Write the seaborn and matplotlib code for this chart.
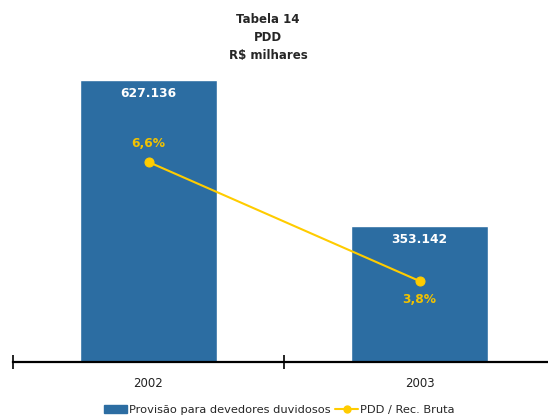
import pandas as pd
import matplotlib
matplotlib.use("Agg")
import matplotlib.pyplot as plt
import seaborn as sns
from matplotlib.patches import Patch
from matplotlib.lines import Line2D

# data
anos = ["2002", "2003"]
pdd = [627.136, 353.142]
pdd_labels = ["627.136", "353.142"]
pdd_rec = [6.6, 3.8]
pdd_rec_labels = ["6,6%", "3,8%"]

blue = "#2C6DA2"
yellow = "#FFCC00"

sns.set_style("white")
plt.rcParams["font.family"] = ["DejaVu Sans"]

df = pd.DataFrame({"ano": anos, "pdd": pdd, "pct": pdd_rec})

fig = plt.figure(figsize=(5.48, 4.17), dpi=100)
ax = fig.add_axes([13 / 548, 55 / 417, 542 / 548, 320 / 417])

sns.barplot(data=df, x="ano", y="pdd", color=blue, width=0.505,
            saturation=1, ax=ax)
ax.set_xlim(-0.5, 1.5)
ax.set_ylim(98, 698.5)

for i, (v, lab) in enumerate(zip(pdd, pdd_labels)):
    ax.annotate(lab, (i, v), xytext=(0, -9.5), textcoords="offset points",
                ha="center", va="center", color="white",
                fontsize=8.8, fontweight="bold")

ax2 = ax.twinx()
sns.lineplot(data=df, x="ano", y="pct", color=yellow, linewidth=1.5,
             marker="o", markersize=6.5, markeredgecolor=yellow, ax=ax2)
ax2.set_ylim(1.894, 9.424)
offs = [13, -13]
for i, (v, lab) in enumerate(zip(pdd_rec, pdd_rec_labels)):
    ax2.annotate(lab, (i, v), xytext=(0, offs[i]), textcoords="offset points",
                 ha="center", va="center", color="#F2C200",
                 fontsize=8.8, fontweight="bold")

for a in (ax, ax2):
    for s in ["top", "left", "right"]:
        a.spines[s].set_visible(False)
    a.set_ylabel("")
    a.set_yticks([])
ax2.spines["bottom"].set_visible(False)
ax.spines["bottom"].set_linewidth(1.6)
ax.spines["bottom"].set_color("black")
ax.set_xlabel("")

ax.set_xticks([-0.5, 0.5, 1.5])
ax.set_xticklabels(["", "", ""])
ax.tick_params(axis="x", which="major", bottom=True, direction="inout",
               length=10, width=1.2, color="black")
ax.set_xticks([0, 1], minor=True)
ax.set_xticklabels(anos, minor=True, fontsize=8.5, color="#222222")
ax.tick_params(axis="x", which="minor", bottom=True, length=0, pad=11)

fig.text(0.489, 0.909, "Tabela 14\nPDD\nR$ milhares", ha="center", va="center",
         fontsize=8.5, fontweight="bold", linespacing=1.5)

handles = [Patch(facecolor=blue, edgecolor=blue),
           Line2D([0], [0], color=yellow, linewidth=1.5, marker="o",
                  markersize=5)]
fig.legend(handles, ["Provisão para devedores duvidosos", "PDD / Rec. Bruta"],
           loc="center", bbox_to_anchor=(0.51, 0.017), ncol=2, frameon=False,
           fontsize=8.2, handlelength=2.0, handletextpad=0.2,
           columnspacing=0.4)

fig.savefig("out.png", dpi=100)
